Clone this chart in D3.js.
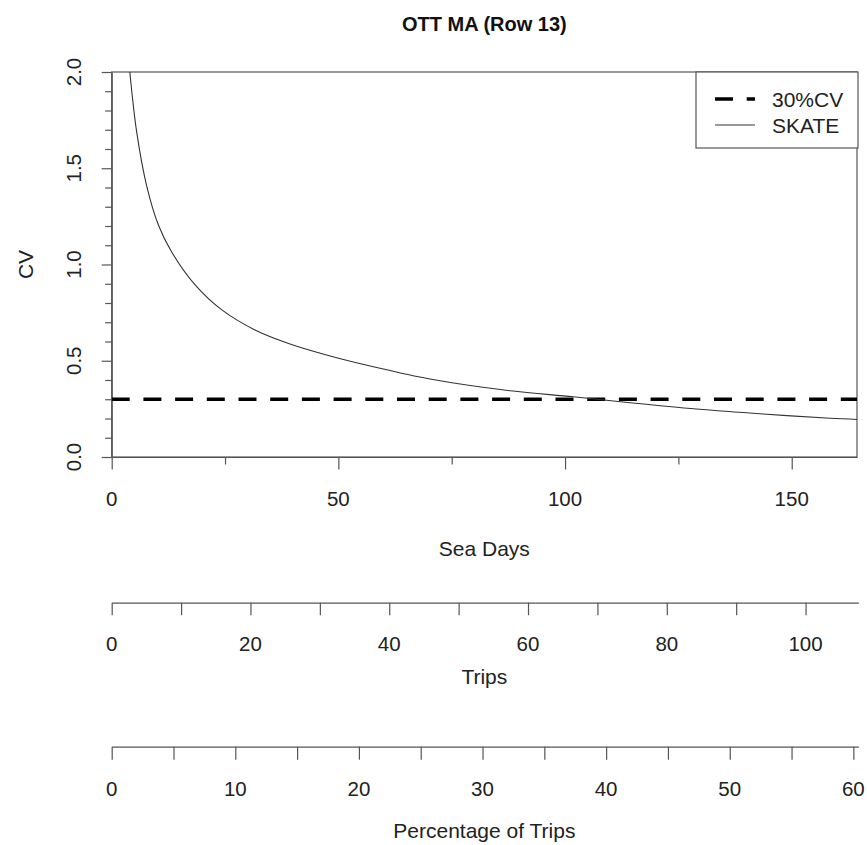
<!DOCTYPE html>
<html>
<head>
<meta charset="utf-8">
<script src="https://cdn.jsdelivr.net/npm/d3@7"></script>
<style>
  body { margin: 0; background: #fff; }
  text { font-family: "Liberation Sans", Arial, sans-serif; fill: #222; }
</style>
</head>
<body>
<svg id="chart" width="867" height="845"></svg>
<script>
// ---- data ----
const title = "OTT MA (Row 13)";
const seaDays = [4.0, 5.5, 7.7, 10.3, 13.2, 18.4, 24.3, 31.6, 39.0, 48.2, 57.7, 70.2, 87.9, 101.8, 114.3, 129, 143.7, 158.5, 164.4];
const skateCV = [2.0, 1.69, 1.41, 1.205, 1.066, 0.894, 0.764, 0.66, 0.59, 0.525, 0.469, 0.405, 0.344, 0.313, 0.282, 0.249, 0.223, 0.201, 0.195];
const targetCV = 0.3;
const legendLabels = ["30%CV", "SKATE"];
const seaDaysDomain = [0, 164.4];
const tripsDomain = [0, 107.6];
const pctDomain = [0, 60.4];
const cvDomain = [0, 2];
const yMajorTicks = [0, 0.5, 1, 1.5, 2];
const yTickLabels = ["0.0", "0.5", "1.0", "1.5", "2.0"];
const yMinorTicks = [0.1,0.2,0.3,0.4,0.6,0.7,0.8,0.9,1.1,1.2,1.3,1.4,1.6,1.7,1.8,1.9];
const seaMajorTicks = [0, 50, 100, 150];
const seaMinorTicks = [25, 75, 125];
const tripTicks = [0,10,20,30,40,50,60,70,80,90,100];
const tripLabels = [0,20,40,60,80,100];
const pctTicks = [0,5,10,15,20,25,30,35,40,45,50,55,60];
const pctLabels = [0,10,20,30,40,50,60];

// ---- layout ----
const L = 111.7, R = 857, T = 72, B = 457;
const axisColor = "#555";
const fs = 20.5;   // tick labels
const fw = 21;     // word labels

const svg = d3.select("#chart");
const x = d3.scaleLinear().domain(seaDaysDomain).range([L, R]);
const y = d3.scaleLinear().domain(cvDomain).range([B, T]);
const xTrips = d3.scaleLinear().domain(tripsDomain).range([L, 858.3]);
const xPct = d3.scaleLinear().domain(pctDomain).range([L, 858.3]);

function styleAxis(g) {
  g.selectAll("path, line").attr("stroke", axisColor).attr("stroke-width", 1.2);
  g.select(".domain").attr("stroke", axisColor);
}

svg.append("defs").append("clipPath").attr("id", "clip")
  .append("rect").attr("x", L).attr("y", T).attr("width", R - L).attr("height", B - T);

// title
svg.append("text").attr("x", (L + R) / 2).attr("y", 31).attr("text-anchor", "middle")
  .style("font-weight", "bold").style("font-size", "20px").style("fill", "#111").text(title);

// box
svg.append("rect").attr("x", L).attr("y", T).attr("width", R - L).attr("height", B - T)
  .attr("fill", "none").attr("stroke", axisColor).attr("stroke-width", 1.2);

// y axis
const yAxisG = svg.append("g").attr("transform", `translate(${L},0)`)
  .call(d3.axisLeft(y).tickValues(yMajorTicks).tickSize(10).tickSizeOuter(0).tickFormat(""));
styleAxis(yAxisG);
const yMinorG = svg.append("g").attr("transform", `translate(${L},0)`)
  .call(d3.axisLeft(y).tickValues(yMinorTicks).tickSize(6.5).tickSizeOuter(0).tickFormat(""));
styleAxis(yMinorG);
yMinorG.select(".domain").remove();
svg.append("g").selectAll("text").data(yMajorTicks).join("text")
  .attr("transform", (d) => `translate(73,${y(d)}) rotate(-90)`)
  .attr("text-anchor", "middle").attr("dominant-baseline", "central")
  .style("font-size", fs + "px").text((d, i) => yTickLabels[i]);
svg.append("text").attr("transform", `translate(25,${(T + B) / 2}) rotate(-90)`)
  .attr("text-anchor", "middle").attr("dominant-baseline", "central")
  .style("font-size", fw + "px").text("CV");

// x axis (sea days)
const xAxisG = svg.append("g").attr("transform", `translate(0,${B})`)
  .call(d3.axisBottom(x).tickValues(seaMajorTicks).tickSize(12.5).tickSizeOuter(0).tickFormat(""));
styleAxis(xAxisG);
const xMinorG = svg.append("g").attr("transform", `translate(0,${B})`)
  .call(d3.axisBottom(x).tickValues(seaMinorTicks).tickSize(7.5).tickSizeOuter(0).tickFormat(""));
styleAxis(xMinorG);
xMinorG.select(".domain").remove();
svg.append("g").selectAll("text").data(seaMajorTicks).join("text")
  .attr("x", (d) => x(d)).attr("y", 498).attr("text-anchor", "middle").attr("dominant-baseline", "central")
  .style("font-size", fs + "px").text((d) => d);
svg.append("text").attr("x", (L + R) / 2).attr("y", 548).attr("text-anchor", "middle")
  .attr("dominant-baseline", "central").style("font-size", fw + "px").text("Sea Days");

// trips axis
const tripsG = svg.append("g").attr("transform", "translate(0,602.7)")
  .call(d3.axisBottom(xTrips).tickValues(tripTicks).tickSize(12.5).tickSizeOuter(0).tickFormat(""));
styleAxis(tripsG);
svg.append("g").selectAll("text").data(tripLabels).join("text")
  .attr("x", (d) => xTrips(d)).attr("y", 643).attr("text-anchor", "middle").attr("dominant-baseline", "central")
  .style("font-size", fs + "px").text((d) => d);
svg.append("text").attr("x", (L + R) / 2).attr("y", 676).attr("text-anchor", "middle")
  .attr("dominant-baseline", "central").style("font-size", fw + "px").text("Trips");

// percentage axis
const pctG = svg.append("g").attr("transform", "translate(0,746.7)")
  .call(d3.axisBottom(xPct).tickValues(pctTicks).tickSize(13).tickSizeOuter(0).tickFormat(""));
styleAxis(pctG);
svg.append("g").selectAll("text").data(pctLabels).join("text")
  .attr("x", (d) => xPct(d)).attr("y", 788).attr("text-anchor", "middle").attr("dominant-baseline", "central")
  .style("font-size", fs + "px").text((d) => d);
svg.append("text").attr("x", (L + R) / 2).attr("y", 830).attr("text-anchor", "middle")
  .attr("dominant-baseline", "central").style("font-size", fw + "px").text("Percentage of Trips");

// plot content
const plotG = svg.append("g").attr("clip-path", "url(#clip)");
plotG.append("line").attr("x1", L).attr("x2", R).attr("y1", y(targetCV)).attr("y2", y(targetCV))
  .attr("stroke", "#000").attr("stroke-width", 3.5).attr("stroke-dasharray", "18,13.7");
const line = d3.line().x((d, i) => x(seaDays[i])).y((d) => y(d)).curve(d3.curveCatmullRom.alpha(0.5));
plotG.append("path").datum(skateCV).attr("d", line)
  .attr("fill", "none").attr("stroke", "#333").attr("stroke-width", 1.1);

// legend
const lg = svg.append("g");
lg.append("rect").attr("x", 696).attr("y", T).attr("width", 858 - 696).attr("height", 148 - T)
  .attr("fill", "#fff").attr("stroke", axisColor).attr("stroke-width", 1.2);
lg.append("line").attr("x1", 715).attr("x2", 755).attr("y1", 99).attr("y2", 99)
  .attr("stroke", "#000").attr("stroke-width", 3.5).attr("stroke-dasharray", "18,13.7");
lg.append("line").attr("x1", 715).attr("x2", 755).attr("y1", 125).attr("y2", 125)
  .attr("stroke", "#333").attr("stroke-width", 1.1);
lg.selectAll("text.lab").data(legendLabels).join("text").attr("class", "lab")
  .attr("x", 772).attr("y", (d, i) => 99 + i * 26).attr("dominant-baseline", "central")
  .style("font-size", fw + "px").text((d) => d);
</script>
</body>
</html>
